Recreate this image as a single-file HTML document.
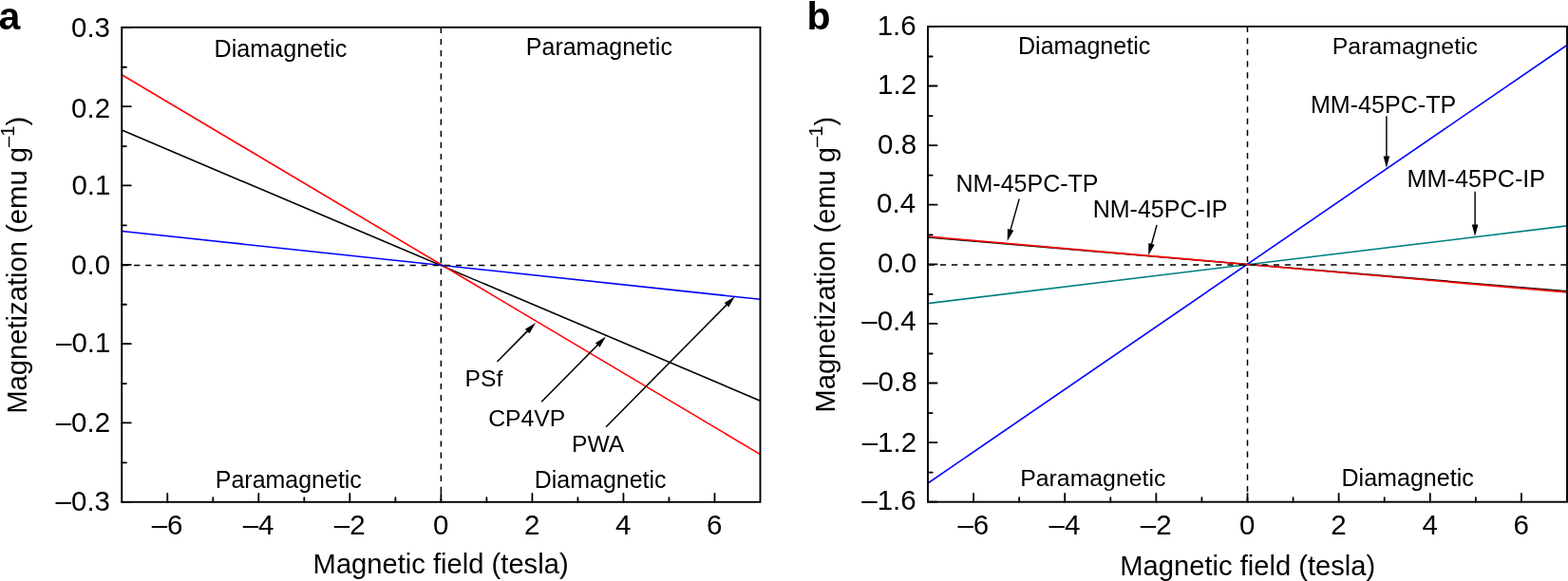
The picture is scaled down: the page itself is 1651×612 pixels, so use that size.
<!DOCTYPE html>
<html><head><meta charset="utf-8"><title>Magnetization plots</title>
<style>html,body{margin:0;padding:0;background:#fff;width:1651px;height:612px;overflow:hidden}svg{display:block}text{fill:#000}</style>
</head><body>
<svg width="1651" height="612" viewBox="0 0 1651 612" font-family="Liberation Sans, Arial, Helvetica, sans-serif">
<rect width="1651" height="612" fill="#fff"/>
<line x1="128.25" y1="137.1" x2="800.5" y2="422.2" stroke="#000" stroke-width="1.6"/>
<line x1="128.25" y1="78.7" x2="800.5" y2="478.6" stroke="#ff0000" stroke-width="1.6"/>
<line x1="128.25" y1="243.5" x2="800.5" y2="315.3" stroke="#0000ff" stroke-width="1.6"/>
<path d="M129.05 279.40H800.50" stroke="#000" stroke-width="1.5" stroke-dasharray="6.2 5.9" fill="none"/>
<path d="M464.38 28.80V528.80" stroke="#000" stroke-width="1.5" stroke-dasharray="6.2 5.9" fill="none"/>
<path d="M176.27 528.80V520.00M272.30 528.80V520.00M368.34 528.80V520.00M464.38 528.80V520.00M560.41 528.80V520.00M656.45 528.80V520.00M752.48 528.80V520.00M224.29 528.80V524.20M320.32 528.80V524.20M416.36 528.80V524.20M512.39 528.80V524.20M608.43 528.80V524.20M704.46 528.80V524.20M128.25 28.80H137.85M128.25 112.13H137.85M128.25 195.47H137.85M128.25 278.80H137.85M128.25 362.13H137.85M128.25 445.47H137.85M128.25 528.80H137.85M128.25 70.77H132.95M128.25 154.10H132.95M128.25 237.43H132.95M128.25 320.77H132.95M128.25 404.10H132.95M128.25 487.43H132.95" stroke="#000" stroke-width="1.8" stroke-linecap="round" fill="none"/>
<rect x="128.25" y="28.80" width="672.25" height="500.00" fill="none" stroke="#000" stroke-width="1.9"/>
<line x1="523.50" y1="381.00" x2="555.92" y2="348.18" stroke="#000" stroke-width="1.6"/>
<path d="M564.00 340.00L557.49 351.14L552.94 346.64Z" fill="#000"/>
<line x1="570.20" y1="423.30" x2="629.93" y2="362.69" stroke="#000" stroke-width="1.6"/>
<path d="M638.00 354.50L631.51 365.65L626.95 361.16Z" fill="#000"/>
<line x1="638.10" y1="449.70" x2="765.72" y2="320.48" stroke="#000" stroke-width="1.6"/>
<path d="M773.80 312.30L767.29 323.44L762.74 318.95Z" fill="#000"/>
<line x1="977.0" y1="319.6" x2="1650.0" y2="237.9" stroke="#008080" stroke-width="1.6"/>
<line x1="977.0" y1="509.0" x2="1650.0" y2="47.5" stroke="#0000ff" stroke-width="1.6"/>
<line x1="977.0" y1="250.0" x2="1650.0" y2="306.9" stroke="#000" stroke-width="1.6"/>
<line x1="977.0" y1="249.1" x2="1650.0" y2="307.9" stroke="#ff0000" stroke-width="1.6"/>
<path d="M977.80 278.90H1650.00" stroke="#000" stroke-width="1.5" stroke-dasharray="6.2 5.9" fill="none"/>
<path d="M1313.50 27.90V528.70" stroke="#000" stroke-width="1.5" stroke-dasharray="6.2 5.9" fill="none"/>
<path d="M1025.07 528.70V519.90M1121.21 528.70V519.90M1217.36 528.70V519.90M1313.50 528.70V519.90M1409.64 528.70V519.90M1505.79 528.70V519.90M1601.93 528.70V519.90M1073.14 528.70V524.10M1169.29 528.70V524.10M1265.43 528.70V524.10M1361.57 528.70V524.10M1457.71 528.70V524.10M1553.86 528.70V524.10M977.00 27.90H986.60M977.00 90.50H986.60M977.00 153.10H986.60M977.00 215.70H986.60M977.00 278.30H986.60M977.00 340.90H986.60M977.00 403.50H986.60M977.00 466.10H986.60M977.00 528.70H986.60M977.00 59.50H981.70M977.00 122.10H981.70M977.00 184.70H981.70M977.00 247.30H981.70M977.00 309.90H981.70M977.00 372.50H981.70M977.00 435.10H981.70M977.00 497.70H981.70" stroke="#000" stroke-width="1.8" stroke-linecap="round" fill="none"/>
<rect x="977.00" y="27.90" width="673.00" height="500.80" fill="none" stroke="#000" stroke-width="1.9"/>
<line x1="1073.20" y1="209.40" x2="1063.81" y2="242.83" stroke="#000" stroke-width="1.45"/>
<path d="M1060.70 253.90L1060.90 240.97L1067.26 242.76Z" fill="#000"/>
<line x1="1218.10" y1="237.00" x2="1212.29" y2="257.82" stroke="#000" stroke-width="1.45"/>
<path d="M1209.20 268.90L1209.38 255.97L1215.74 257.75Z" fill="#000"/>
<line x1="1459.90" y1="122.30" x2="1459.90" y2="165.40" stroke="#000" stroke-width="1.45"/>
<path d="M1459.90 176.90L1456.60 164.40L1463.20 164.40Z" fill="#000"/>
<line x1="1553.10" y1="201.80" x2="1553.10" y2="237.40" stroke="#000" stroke-width="1.45"/>
<path d="M1553.10 248.90L1549.80 236.40L1556.40 236.40Z" fill="#000"/>
<text x="116.00" y="39.10" font-size="29.50" text-anchor="end">0.3</text>
<text x="116.10" y="123.60" font-size="29.50" text-anchor="end">0.2</text>
<text x="116.40" y="205.20" font-size="29.50" text-anchor="end">0.1</text>
<text x="116.10" y="289.00" font-size="29.50" text-anchor="end">0.0</text>
<text x="116.40" y="370.70" font-size="29.50" text-anchor="end">–0.1</text>
<text x="116.10" y="454.80" font-size="29.50" text-anchor="end">–0.2</text>
<text x="116.00" y="537.70" font-size="29.50" text-anchor="end">–0.3</text>
<text x="964.70" y="37.20" font-size="29.50" text-anchor="end">1.6</text>
<text x="965.10" y="99.10" font-size="29.50" text-anchor="end">1.2</text>
<text x="965.10" y="161.70" font-size="29.50" text-anchor="end">0.8</text>
<text x="964.10" y="223.80" font-size="29.50" text-anchor="end">0.4</text>
<text x="965.10" y="287.00" font-size="29.50" text-anchor="end">0.0</text>
<text x="964.70" y="348.10" font-size="29.50" text-anchor="end">–0.4</text>
<text x="965.60" y="412.00" font-size="29.50" text-anchor="end">–0.8</text>
<text x="965.10" y="475.60" font-size="29.50" text-anchor="end">–1.2</text>
<text x="964.70" y="536.70" font-size="29.50" text-anchor="end">–1.6</text>
<text x="176.07" y="562.50" font-size="29.50" text-anchor="middle">–6</text>
<text x="1024.87" y="562.50" font-size="29.50" text-anchor="middle">–6</text>
<text x="272.10" y="562.50" font-size="29.50" text-anchor="middle">–4</text>
<text x="1121.01" y="562.50" font-size="29.50" text-anchor="middle">–4</text>
<text x="368.14" y="562.50" font-size="29.50" text-anchor="middle">–2</text>
<text x="1217.16" y="562.50" font-size="29.50" text-anchor="middle">–2</text>
<text x="464.18" y="562.50" font-size="29.50" text-anchor="middle">0</text>
<text x="1313.30" y="562.50" font-size="29.50" text-anchor="middle">0</text>
<text x="560.21" y="562.50" font-size="29.50" text-anchor="middle">2</text>
<text x="1409.44" y="562.50" font-size="29.50" text-anchor="middle">2</text>
<text x="656.25" y="562.50" font-size="29.50" text-anchor="middle">4</text>
<text x="1505.59" y="562.50" font-size="29.50" text-anchor="middle">4</text>
<text x="752.28" y="562.50" font-size="29.50" text-anchor="middle">6</text>
<text x="1601.73" y="562.50" font-size="29.50" text-anchor="middle">6</text>
<text x="329.60" y="604.00" font-size="29.17">Magnetic field (tesla)</text>
<text x="1179.30" y="605.50" font-size="29.15">Magnetic field (tesla)</text>
<text transform="translate(27.80 435.80) rotate(-90)" font-size="29.21">Magnetization (emu g<tspan font-size="20.30" dy="-12.70">–1</tspan><tspan dy="12.70">)</tspan></text>
<text transform="translate(878.80 434.40) rotate(-90)" font-size="29.06">Magnetization (emu g<tspan font-size="20.30" dy="-12.70">–1</tspan><tspan dy="12.70">)</tspan></text>
<text x="225.47" y="59.80" font-size="25.18">Diamagnetic</text>
<text x="553.85" y="57.80" font-size="24.98">Paramagnetic</text>
<text x="226.80" y="513.90" font-size="24.97">Paramagnetic</text>
<text x="562.75" y="514.20" font-size="24.98">Diamagnetic</text>
<text x="1072.00" y="57.00" font-size="25.07">Diamagnetic</text>
<text x="1402.80" y="56.70" font-size="24.84">Paramagnetic</text>
<text x="1074.20" y="512.00" font-size="24.84">Paramagnetic</text>
<text x="1412.50" y="511.70" font-size="25.07">Diamagnetic</text>
<text x="489.55" y="407.20" font-size="24.68">PSf</text>
<text x="514.15" y="448.80" font-size="24.78">CP4VP</text>
<text x="602.10" y="475.50" font-size="24.63">PWA</text>
<text x="1006.45" y="202.10" font-size="25.02">NM-45PC-TP</text>
<text x="1150.70" y="229.20" font-size="25.04">NM-45PC-IP</text>
<text x="1379.90" y="118.70" font-size="25.10">MM-45PC-TP</text>
<text x="1481.55" y="196.80" font-size="25.20">MM-45PC-IP</text>
<text x="-1.60" y="30.50" font-size="41.00" font-weight="bold">a</text>
<text x="849.60" y="30.50" font-size="41.00" font-weight="bold">b</text>
</svg>
</body></html>
